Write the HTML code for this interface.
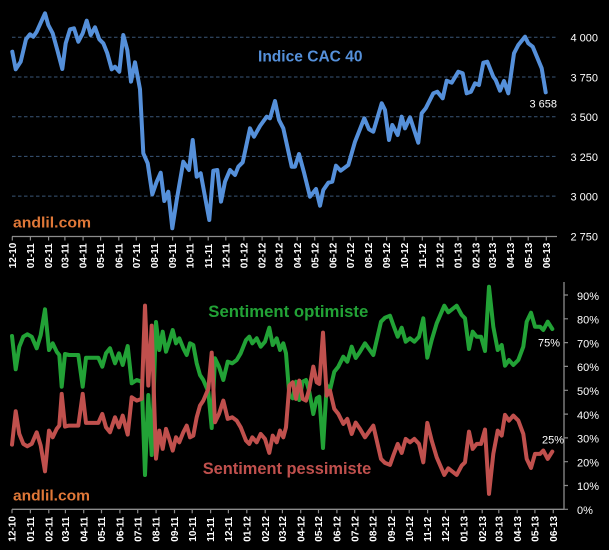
<!DOCTYPE html>
<html><head><meta charset="utf-8"><style>
html,body{margin:0;padding:0;background:#000;}
svg{display:block;}
text{font-family:"Liberation Sans",Arial,sans-serif;}
</style></head><body>
<svg width="609" height="550" viewBox="0 0 609 550" xmlns="http://www.w3.org/2000/svg">
<rect x="0" y="0" width="609" height="550" fill="#000"/>

<!-- ===== TOP CHART ===== -->
<g stroke="#3a5677" stroke-width="1" stroke-dasharray="3.5 2.5" fill="none">
<line x1="12" y1="37.3" x2="557" y2="37.3"/>
<line x1="12" y1="77" x2="557" y2="77"/>
<line x1="12" y1="116.7" x2="557" y2="116.7"/>
<line x1="12" y1="156.4" x2="557" y2="156.4"/>
<line x1="12" y1="196.1" x2="557" y2="196.1"/>
</g>
<line x1="12" y1="236.5" x2="557" y2="236.5" stroke="#8c8c8c" stroke-width="1.3"/>
<path stroke="#8c8c8c" stroke-width="1.2" fill="none" d="M12.3 236.5V240.5M30.4 236.5V240.5M48.6 236.5V240.5M64.9 236.5V240.5M83.1 236.5V240.5M100.6 236.5V240.5M118.8 236.5V240.5M136.3 236.5V240.5M154.4 236.5V240.5M172.6 236.5V240.5M190.1 236.5V240.5M208.2 236.5V240.5M225.8 236.5V240.5M243.9 236.5V240.5M262.1 236.5V240.5M279 236.5V240.5M297.2 236.5V240.5M314.7 236.5V240.5M332.8 236.5V240.5M350.4 236.5V240.5M368.5 236.5V240.5M386.6 236.5V240.5M404.2 236.5V240.5M422.3 236.5V240.5M439.9 236.5V240.5M458 236.5V240.5M476.1 236.5V240.5M492.5 236.5V240.5M510.6 236.5V240.5M528.2 236.5V240.5M546.3 236.5V240.5"/>

<g fill="#ffffff" font-size="11">
<text x="570.5" y="41.7">4 000</text>
<text x="570.5" y="81.4">3 750</text>
<text x="570.5" y="121.1">3 500</text>
<text x="570.5" y="160.8">3 250</text>
<text x="570.5" y="200.5">3 000</text>
<text x="570.5" y="240.5">2 750</text>
<text x="529.5" y="107.5">3 658</text>
</g>

<g fill="#ffffff" font-size="10" font-weight="bold">
<text transform="translate(15.9,268.3) rotate(-90)">12-10</text>
<text transform="translate(34,268.3) rotate(-90)">01-11</text>
<text transform="translate(52.2,268.3) rotate(-90)">02-11</text>
<text transform="translate(68.5,268.3) rotate(-90)">03-11</text>
<text transform="translate(86.7,268.3) rotate(-90)">04-11</text>
<text transform="translate(104.2,268.3) rotate(-90)">05-11</text>
<text transform="translate(122.4,268.3) rotate(-90)">06-11</text>
<text transform="translate(139.9,268.3) rotate(-90)">07-11</text>
<text transform="translate(158,268.3) rotate(-90)">08-11</text>
<text transform="translate(176.2,268.3) rotate(-90)">09-11</text>
<text transform="translate(193.7,268.3) rotate(-90)">10-11</text>
<text transform="translate(211.8,268.3) rotate(-90)">11-11</text>
<text transform="translate(229.4,268.3) rotate(-90)">12-11</text>
<text transform="translate(247.5,268.3) rotate(-90)">01-12</text>
<text transform="translate(265.7,268.3) rotate(-90)">02-12</text>
<text transform="translate(282.6,268.3) rotate(-90)">03-12</text>
<text transform="translate(300.8,268.3) rotate(-90)">04-12</text>
<text transform="translate(318.3,268.3) rotate(-90)">05-12</text>
<text transform="translate(336.4,268.3) rotate(-90)">06-12</text>
<text transform="translate(354,268.3) rotate(-90)">07-12</text>
<text transform="translate(372.1,268.3) rotate(-90)">08-12</text>
<text transform="translate(390.2,268.3) rotate(-90)">09-12</text>
<text transform="translate(407.8,268.3) rotate(-90)">10-12</text>
<text transform="translate(425.9,268.3) rotate(-90)">11-12</text>
<text transform="translate(443.5,268.3) rotate(-90)">12-12</text>
<text transform="translate(461.6,268.3) rotate(-90)">01-13</text>
<text transform="translate(479.7,268.3) rotate(-90)">02-13</text>
<text transform="translate(496.1,268.3) rotate(-90)">03-13</text>
<text transform="translate(514.2,268.3) rotate(-90)">04-13</text>
<text transform="translate(531.8,268.3) rotate(-90)">05-13</text>
<text transform="translate(549.9,268.3) rotate(-90)">06-13</text>
</g>

<text x="258" y="61.7" font-size="16" font-weight="bold" fill="#5590da" textLength="104.5" lengthAdjust="spacingAndGlyphs">Indice CAC 40</text>
<text x="13" y="227.7" font-size="15" font-weight="bold" fill="#e07838" textLength="78" lengthAdjust="spacingAndGlyphs">andlil.com</text>

<polyline fill="none" stroke="#5590da" stroke-width="4" stroke-linejoin="round" stroke-linecap="round" points="12.3,51.7 15.7,69.3 20.7,61.7 26,39.3 30,34.3 33.3,36.7 36.7,31.7 45,13.3 48.3,25 52.7,33.3 57.3,50 62.3,69 65.7,43.3 70,29.3 74,28.3 78.3,41.7 82.7,33.3 86.7,20.7 90.7,35 95,27.3 99.3,39.3 103.3,43.3 107.3,53.3 111.7,69.3 115,66.7 119.3,71.7 123.3,35 127.3,50 131,81.7 135,62.3 140,89.3 143.3,153.3 147.7,163.3 152.3,194.3 156.7,181.7 160.7,172.7 164.3,201 168.3,191.7 172.3,228.3 176.7,200 183.3,161.7 189,170 192.7,140 196.7,176.7 200.7,173.3 209.3,220 213.3,170.7 217.3,170 221,201.7 225,181.7 230,170 235,175 238.3,166.7 242.7,162.3 250,128.3 254,136.7 260,126 266.7,116.7 270,118.3 275,101 279,120 283.3,128.3 291.7,166.7 295,166.7 299,154 304,172.5 310,196.7 316,189 320,205.7 323.3,190 328.3,182.7 332.3,181.7 336,165.7 340.7,170.7 348.3,165 355,141.7 364.3,118.3 369,129.3 373.3,131.7 381.7,103.3 385,110 389,140 392.3,125 397.7,135 401.7,116.7 405,128.3 410,117.3 418.3,142.7 421.7,113.3 425.7,108.3 433.3,93.3 437.3,91.7 442.7,98.3 446.7,80.7 451.7,82.7 458.3,71.7 462.7,73.3 466.7,93.3 471,91.7 475,83.3 479,85 483.3,62.7 487.3,61.7 493.3,76.7 495.7,80 500,90.7 504,81 508.3,93.3 514,53.3 518.3,45 525,36.7 528.3,43.3 532.7,46.7 541.7,68.3 545.7,92.3"/>

<!-- ===== BOTTOM CHART ===== -->
<line x1="12" y1="509.3" x2="564" y2="509.3" stroke="#8c8c8c" stroke-width="1.3"/>
<line x1="564" y1="282" x2="564" y2="509.3" stroke="#8c8c8c" stroke-width="1.3"/>
<path stroke="#8c8c8c" stroke-width="1.2" fill="none" d="M564 509.3H568M564 485.5H568M564 461.7H568M564 437.9H568M564 414.1H568M564 390.3H568M564 366.4H568M564 342.6H568M564 318.8H568M564 295H568"/>
<path stroke="#8c8c8c" stroke-width="1.2" fill="none" d="M12 509.3V513.3M30.4 509.3V513.3M48.8 509.3V513.3M65.4 509.3V513.3M83.7 509.3V513.3M101.5 509.3V513.3M119.9 509.3V513.3M137.7 509.3V513.3M156.1 509.3V513.3M174.5 509.3V513.3M192.2 509.3V513.3M210.6 509.3V513.3M228.4 509.3V513.3M246.8 509.3V513.3M265.2 509.3V513.3M282.4 509.3V513.3M300.7 509.3V513.3M318.5 509.3V513.3M336.9 509.3V513.3M354.7 509.3V513.3M373.1 509.3V513.3M391.5 509.3V513.3M409.2 509.3V513.3M427.6 509.3V513.3M445.4 509.3V513.3M463.8 509.3V513.3M482.2 509.3V513.3M498.8 509.3V513.3M517.2 509.3V513.3M534.9 509.3V513.3M553.3 509.3V513.3"/>

<g fill="#ffffff" font-size="11">
<text x="577" y="514">0%</text>
<text x="577" y="490.2">10%</text>
<text x="577" y="466.4">20%</text>
<text x="577" y="442.6">30%</text>
<text x="577" y="418.8">40%</text>
<text x="577" y="395">50%</text>
<text x="577" y="371.2">60%</text>
<text x="577" y="347.4">70%</text>
<text x="577" y="323.6">80%</text>
<text x="577" y="299.8">90%</text>
<text x="538" y="346.7">75%</text>
<text x="542" y="443.3">25%</text>
</g>

<g fill="#ffffff" font-size="10" font-weight="bold">
<text transform="translate(15.6,541.7) rotate(-90)">12-10</text>
<text transform="translate(34,541.7) rotate(-90)">01-11</text>
<text transform="translate(52.4,541.7) rotate(-90)">02-11</text>
<text transform="translate(69,541.7) rotate(-90)">03-11</text>
<text transform="translate(87.3,541.7) rotate(-90)">04-11</text>
<text transform="translate(105.1,541.7) rotate(-90)">05-11</text>
<text transform="translate(123.5,541.7) rotate(-90)">06-11</text>
<text transform="translate(141.3,541.7) rotate(-90)">07-11</text>
<text transform="translate(159.7,541.7) rotate(-90)">08-11</text>
<text transform="translate(178.1,541.7) rotate(-90)">09-11</text>
<text transform="translate(195.8,541.7) rotate(-90)">10-11</text>
<text transform="translate(214.2,541.7) rotate(-90)">11-11</text>
<text transform="translate(232,541.7) rotate(-90)">12-11</text>
<text transform="translate(250.4,541.7) rotate(-90)">01-12</text>
<text transform="translate(268.8,541.7) rotate(-90)">02-12</text>
<text transform="translate(286,541.7) rotate(-90)">03-12</text>
<text transform="translate(304.3,541.7) rotate(-90)">04-12</text>
<text transform="translate(322.1,541.7) rotate(-90)">05-12</text>
<text transform="translate(340.5,541.7) rotate(-90)">06-12</text>
<text transform="translate(358.3,541.7) rotate(-90)">07-12</text>
<text transform="translate(376.7,541.7) rotate(-90)">08-12</text>
<text transform="translate(395.1,541.7) rotate(-90)">09-12</text>
<text transform="translate(412.8,541.7) rotate(-90)">10-12</text>
<text transform="translate(431.2,541.7) rotate(-90)">11-12</text>
<text transform="translate(449,541.7) rotate(-90)">12-12</text>
<text transform="translate(467.4,541.7) rotate(-90)">01-13</text>
<text transform="translate(485.8,541.7) rotate(-90)">02-13</text>
<text transform="translate(502.4,541.7) rotate(-90)">03-13</text>
<text transform="translate(520.8,541.7) rotate(-90)">04-13</text>
<text transform="translate(538.5,541.7) rotate(-90)">05-13</text>
<text transform="translate(556.9,541.7) rotate(-90)">06-13</text>
</g>

<text x="208.3" y="317" font-size="16.5" font-weight="bold" fill="#22a236" textLength="160" lengthAdjust="spacingAndGlyphs">Sentiment optimiste</text>
<text x="202.7" y="474" font-size="16.5" font-weight="bold" fill="#c0504d" textLength="168.5" lengthAdjust="spacingAndGlyphs">Sentiment pessimiste</text>
<text x="13" y="500.5" font-size="15" font-weight="bold" fill="#e07838" textLength="77" lengthAdjust="spacingAndGlyphs">andlil.com</text>

<defs>
<polyline id="opt" fill="none" stroke-width="4" stroke-linejoin="round" stroke-linecap="round" points="12,336 15.7,369.3 19.3,346.7 23.3,336.7 27.3,334.3 31.7,336.7 36.7,348.3 40.7,335 45,309.3 49,350 52.7,343.3 56.7,351.7 59.3,355 61.7,386.7 65,354 69,355 78.3,355 82.7,386.7 86,357.7 98.3,357.7 102.3,366.7 106,353.3 110,348.3 115,363.3 119,353.3 122.7,365 127.7,346 131.7,383.3 136.7,380 141.7,381.7 145,475 148.3,395 151.7,455 156,322 159.3,350 162.7,331.7 166,351.7 169.3,341.7 172.7,330 176,343.3 179.3,338.3 183.3,348.3 186.7,355 190,343.3 193.3,345 196.7,363.3 200,375 203.3,380 208.3,391.7 211.7,428 215,358.3 219,366.7 223.3,380 227.7,361.7 232.3,363.3 236.7,360 240.7,353.3 246,340 249.3,336.7 252.3,343.3 256.7,338.3 260.7,346.7 265,341.7 269.3,327.7 272.7,345 276.7,338.3 280,350 283.3,343.3 286,353.3 289.3,395 292.7,398.3 296,381.7 299.3,400 302.7,381.7 306,380 309.3,391.7 313.3,414 316.7,398.3 319.3,396.7 323,448 326.7,385 330,390 334.3,371.7 338.3,366.7 343.3,356.7 347.3,361.7 351.7,346.7 355.7,358 360,351.7 365,343.3 373.3,355 381,321.7 385,317.7 390,315.7 393.3,325 397.7,336.7 401.7,327.7 405.7,341.7 410,338.3 414.3,341.7 419,336.7 423.3,318.3 427.3,357.7 431.7,340 436.7,323.3 444.3,305.7 448.3,312.3 456.7,305.7 461.7,315 465,318.3 469,349 472.7,331.7 476.7,336.7 481,336.7 485,351 489,286.7 493.3,326.7 497.7,350 501.7,345 505,365.7 509,360 513.3,365 518.3,360 523.3,346.7 526.7,321.7 531,312.7 535,326.7 540,326.7 543.3,330 547.7,321.7 552.3,329"/>
</defs>
<use href="#opt" stroke="#22a236"/>
<g transform="translate(0,780.6) scale(1,-1)">
<use href="#opt" stroke="#c0504d"/>
</g>
</svg>
</body></html>
